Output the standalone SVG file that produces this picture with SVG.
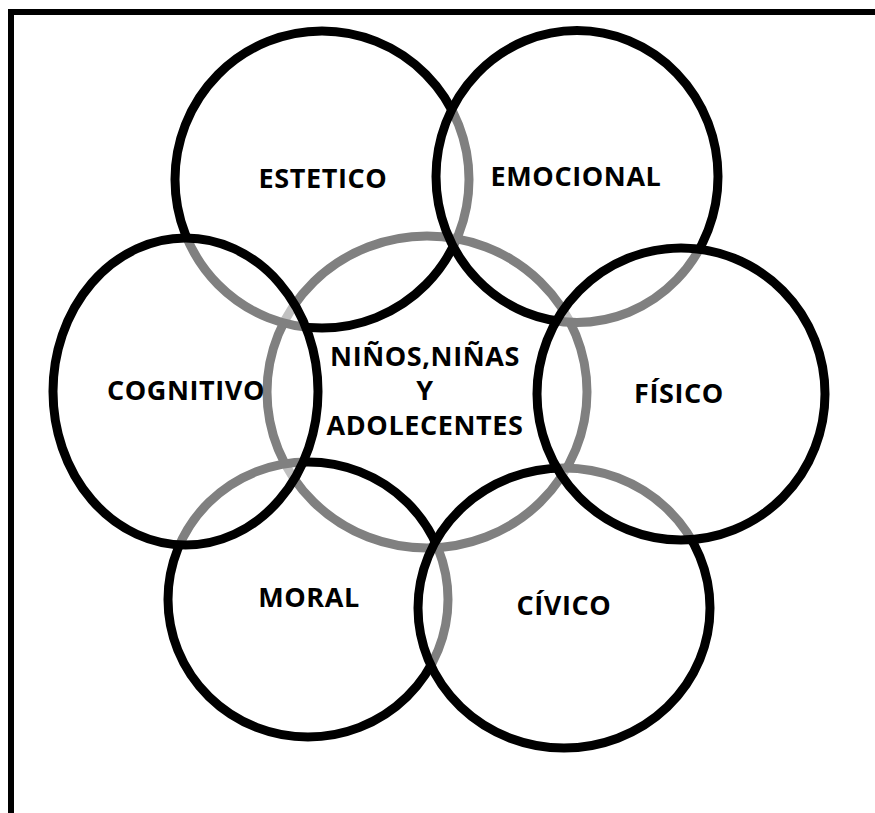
<svg xmlns="http://www.w3.org/2000/svg" width="875" height="813" viewBox="0 0 875 813">
<style>
.bg{fill:#fff}
.frame{fill:none;stroke:#000;stroke-width:6}
.c{fill:#fff;fill-opacity:0.5;stroke:#000;stroke-width:9}
.t{font-family:"Open Sans","Liberation Sans",sans-serif;font-weight:bold;font-size:27px;letter-spacing:0.6px;fill:#000;text-anchor:middle}
</style>
<rect class="bg" x="0" y="0" width="875" height="813"/>
<rect class="frame" x="11" y="12" width="900" height="900"/>
<g id="center">
<ellipse class="c" cx="427" cy="392" rx="160" ry="156"/>
<text class="t" x="425" y="366">NIÑOS,NIÑAS</text>
<text class="t" x="425" y="400">Y</text>
<text class="t" x="425" y="435">ADOLECENTES</text>
</g>
<g id="estetico">
<ellipse class="c" cx="322" cy="179.5" rx="147" ry="148.5"/>
<text class="t" x="323" y="188">ESTETICO</text>
</g>
<g id="moral">
<ellipse class="c" cx="308" cy="599.5" rx="140" ry="137.5"/>
<text class="t" x="309" y="607">MORAL</text>
</g>
<g id="emocional">
<ellipse class="c" cx="577" cy="176.5" rx="141" ry="146"/>
<text class="t" x="576" y="186">EMOCIONAL</text>
</g>
<g id="civico">
<ellipse class="c" cx="564" cy="608" rx="146" ry="140"/>
<text class="t" x="564" y="615">CÍVICO</text>
</g>
<g id="fisico">
<ellipse class="c" cx="681" cy="394" rx="144" ry="146"/>
<text class="t" x="679" y="403">FÍSICO</text>
</g>
<g id="cognitivo">
<ellipse class="c" cx="185.5" cy="391.5" rx="132.5" ry="153.5"/>
<text class="t" x="186" y="400">COGNITIVO</text>
</g>
<g id="connectors"></g>
</svg>
